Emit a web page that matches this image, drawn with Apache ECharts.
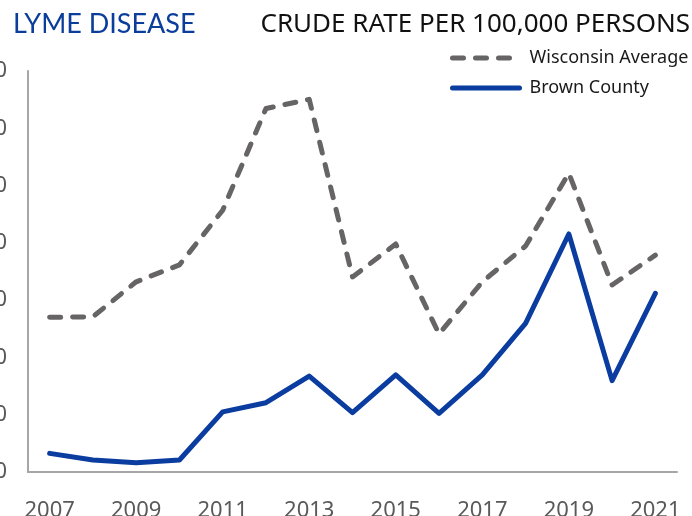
<!DOCTYPE html>
<html>
<head>
<meta charset="utf-8">
<script src="https://cdn.jsdelivr.net/npm/echarts@6/dist/echarts.min.js"></script>
<style>
html,body{margin:0;padding:0;background:#fff;}
#chart{width:692px;height:516px;}
</style>
</head>
<body>
<div id="chart"></div>
<script>
const years = ['2007','2008','2009','2010','2011','2012','2013','2014','2015','2016','2017','2018','2019','2020','2021'];
const wisconsinAverage = [54.0, 54.2, 66.4, 72.3, 91.4, 126.9, 130.1, 68.1, 79.6, 48.2, 66.4, 78.9, 104.3, 65.3, 75.7];
const brownCounty = [6.5, 4.2, 3.2, 4.2, 21.0, 24.2, 33.5, 20.7, 33.9, 20.5, 33.9, 51.9, 83.1, 31.9, 62.4];
const yMin = 0, yMax = 140, yStep = 20;

const chart = echarts.init(document.getElementById('chart'));
chart.setOption({
  animation: false,
  backgroundColor: '#ffffff',
  title: [
    {text: 'LYME DISEASE', left: 13, top: 11, padding: 0,
     textStyle: {fontFamily: 'Lato', fontSize: 27, fontWeight: 'normal', color: '#0b3d9b'}},
    {text: 'CRUDE RATE PER 100,000 PERSONS', right: 2, top: 12, padding: 0,
     textStyle: {fontFamily: 'Noto Sans', fontSize: 26, fontWeight: 'normal', color: '#111111'}}
  ],
  legend: {
    orient: 'vertical',
    left: 450, top: 49, padding: 0,
    itemWidth: 67, itemHeight: 14, itemGap: 12,
    itemStyle: {opacity: 0, borderWidth: 0},
    lineStyle: {width: 5, cap: 'round'},
    textStyle: {fontFamily: 'Noto Sans', fontSize: 18, color: '#1a1a1a', padding: [0, 0, 0, 5]},
    data: ['Wisconsin Average', 'Brown County']
  },
  grid: {left: 28, right: 15, top: 71, bottom: 44, containLabel: false, outerBoundsMode: 'none'},
  xAxis: {
    type: 'category',
    data: years,
    boundaryGap: true,
    axisLine: {lineStyle: {color: '#a6a6a6', width: 2}},
    axisTick: {show: false},
    axisLabel: {interval: 1, margin: 28, fontFamily: 'Noto Sans', fontSize: 22, color: '#595959'}
  },
  yAxis: {
    type: 'value',
    min: yMin, max: yMax, interval: yStep,
    axisLine: {show: true, lineStyle: {color: '#a6a6a6', width: 2}},
    axisTick: {show: false},
    splitLine: {show: false},
    axisLabel: {margin: 21, fontFamily: 'Noto Sans', fontSize: 22, color: '#595959', align: 'right'}
  },
  series: [
    {name: 'Wisconsin Average', type: 'line', data: wisconsinAverage, symbol: 'none',
     itemStyle: {color: '#666464'},
     lineStyle: {color: '#666464', width: 5, type: [11, 12], cap: 'round', join: 'round'}},
    {name: 'Brown County', type: 'line', data: brownCounty, symbol: 'none',
     itemStyle: {color: '#0a3d9f'},
     lineStyle: {color: '#0a3d9f', width: 5, cap: 'round', join: 'round'}}
  ]
});
</script>
</body>
</html>
